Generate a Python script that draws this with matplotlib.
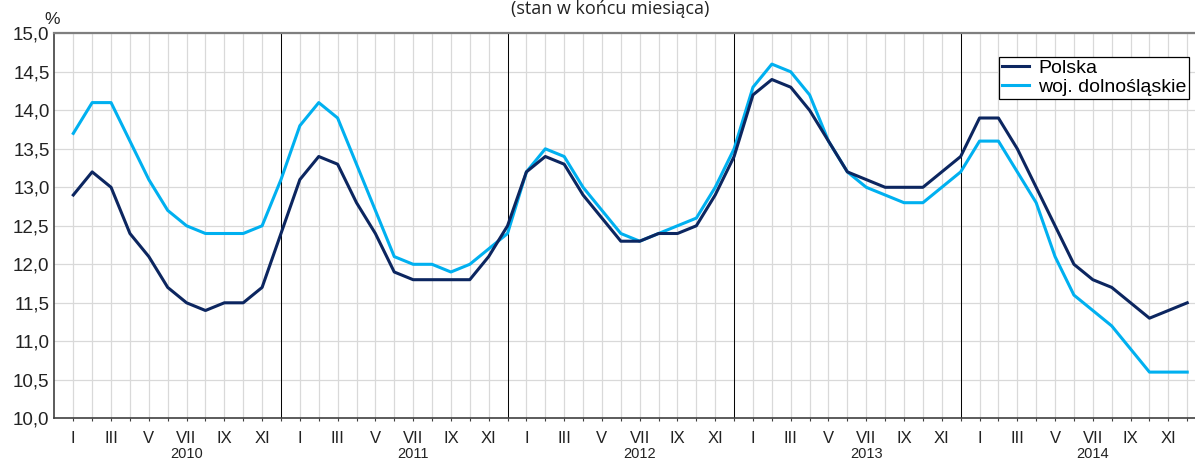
import numpy as np
import matplotlib
matplotlib.use("Agg")
import matplotlib.pyplot as plt
from matplotlib import transforms

# stopa bezrobocia, I 2010 - XII 2014
years = [2010, 2011, 2012, 2013, 2014]
months = ['I', 'II', 'III', 'IV', 'V', 'VI', 'VII', 'VIII', 'IX', 'X', 'XI', 'XII']

polska = [12.9, 13.2, 13.0, 12.4, 12.1, 11.7, 11.5, 11.4, 11.5, 11.5, 11.7, 12.4,
          13.1, 13.4, 13.3, 12.8, 12.4, 11.9, 11.8, 11.8, 11.8, 11.8, 12.1, 12.5,
          13.2, 13.4, 13.3, 12.9, 12.6, 12.3, 12.3, 12.4, 12.4, 12.5, 12.9, 13.4,
          14.2, 14.4, 14.3, 14.0, 13.6, 13.2, 13.1, 13.0, 13.0, 13.0, 13.2, 13.4,
          13.9, 13.9, 13.5, 13.0, 12.5, 12.0, 11.8, 11.7, 11.5, 11.3, 11.4, 11.5]

dolnoslaskie = [13.7, 14.1, 14.1, 13.6, 13.1, 12.7, 12.5, 12.4, 12.4, 12.4, 12.5, 13.1,
                13.8, 14.1, 13.9, 13.3, 12.7, 12.1, 12.0, 12.0, 11.9, 12.0, 12.2, 12.4,
                13.2, 13.5, 13.4, 13.0, 12.7, 12.4, 12.3, 12.4, 12.5, 12.6, 13.0, 13.5,
                14.3, 14.6, 14.5, 14.2, 13.6, 13.2, 13.0, 12.9, 12.8, 12.8, 13.0, 13.2,
                13.6, 13.6, 13.2, 12.8, 12.1, 11.6, 11.4, 11.2, 10.9, 10.6, 10.6, 10.6]

plt.rcParams['font.family'] = ['Liberation Sans', 'DejaVu Sans']

W, H = 1195, 461
fig = plt.figure(figsize=(W / 100, H / 100), dpi=100)

# axes geometry in pixels (right edge runs past the picture)
step = 18.88
x_left = 73.3 - step
ax = fig.add_axes([x_left / W, (H - 418.3) / H, 61 * step / W, 385.0 / H])

x = np.arange(len(polska))
ax.plot(x, polska, color='#0c2660', lw=2.2, label='Polska', zorder=4)
ax.plot(x, dolnoslaskie, color='#00b0f0', lw=2.2, label='woj. dolnośląskie', zorder=3)

ax.set_xlim(-1, 60)
ax.set_ylim(10, 15)

# month ticks / grid
ax.set_xticks(x)
ax.set_xticklabels([months[i % 12] if i % 2 == 0 else '' for i in x], fontsize=12)
yt = np.arange(10, 15.01, 0.5)
ax.set_yticks(yt)
ax.set_yticklabels([f'{v:.1f}'.replace('.', ',') for v in yt], fontsize=13.5)
ax.grid(True, color='#d9d9d9', lw=0.9, zorder=0)
ax.set_axisbelow(True)
ax.tick_params(axis='x', direction='out', length=2.5, width=0.8, color='#404040',
               pad=7.0, labelcolor='#222222')
ax.tick_params(axis='y', length=0, pad=3.5, labelcolor='#222222')

# year separators
for k in range(len(years) - 1):
    ax.axvline(12 * k + 11, color='black', lw=0.7, zorder=2)

for s in ['left', 'bottom']:
    ax.spines[s].set_color('#404040')
    ax.spines[s].set_linewidth(1.2)
ax.spines['top'].set_color('#7f7f7f')
ax.spines['top'].set_linewidth(1.6)
ax.spines['right'].set_visible(False)

# year labels under VII
tr = transforms.blended_transform_factory(ax.transData, fig.transFigure)
for k, yr in enumerate(years):
    ax.text(12 * k + 6, 3 / H, str(yr), transform=tr, ha='center', va='baseline',
            fontsize=10.5, color='#222222')

fig.text(52 / W, 1 - 20 / H, '%', ha='center', va='center', fontsize=12.5, color='#222222')
fig.text(610 / W, 1 - 13.5 / H, '(stan w końcu miesiąca)', ha='center', va='baseline',
         fontsize=13, family=['Open Sans', 'DejaVu Sans'], color='#222222')

leg = ax.legend(loc='upper left', bbox_to_anchor=(999 / W, 1 - 56.7 / H),
                bbox_transform=fig.transFigure, borderaxespad=0, fontsize=14,
                frameon=True, fancybox=False, framealpha=1, edgecolor='black',
                borderpad=0.15, labelspacing=0.05, handlelength=1.4, handletextpad=0.45)
leg.get_frame().set_linewidth(0.9)

fig.savefig('out.png', dpi=100)
